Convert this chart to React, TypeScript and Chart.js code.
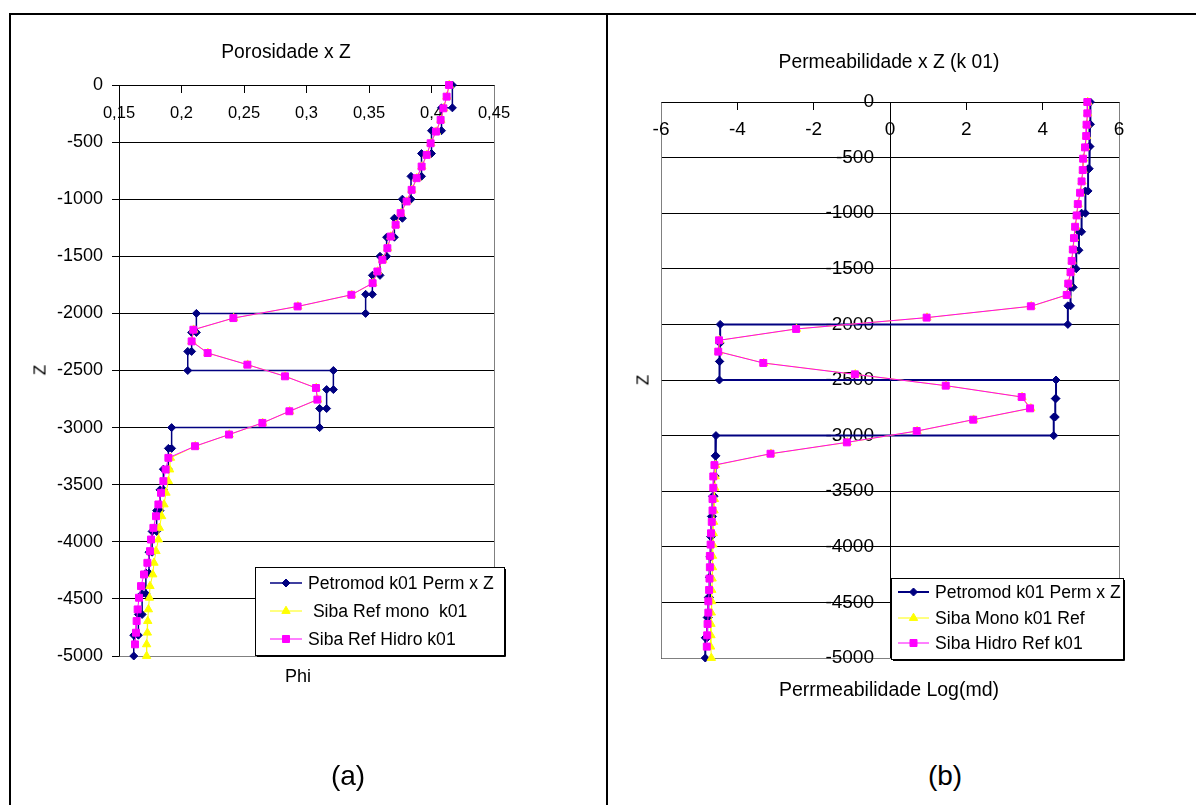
import React, { useEffect, useRef } from 'react';
import { Chart, registerables } from 'chart.js';

Chart.register(...registerables);

const FONT = '"Liberation Sans", Arial, Helvetica, sans-serif';
const NAVY = '#000080';
const YELLOW = '#FFFF00';
const MAGENTA = '#FF00FF';

// ---------- shared depths (m) ----------
const petromodLayerZ = [0, -200, -400, -600, -800, -1000, -1167, -1333, -1500, -1667, -1833, -2000, -2167, -2333, -2500, -2667, -2833, -3000, -3182, -3364, -3545, -3727, -3909, -4091, -4273, -4455, -4636, -4818, -5000];
const sibaZ = [0, -102, -204, -306, -408, -510, -612, -714, -816, -918, -1020, -1122, -1224, -1327, -1429, -1531, -1633, -1735, -1837, -1939, -2041, -2143, -2245, -2347, -2449, -2551, -2653, -2755, -2857, -2959, -3061, -3163, -3265, -3367, -3469, -3571, -3673, -3776, -3878, -3980, -4082, -4184, -4286, -4388, -4490, -4592, -4694, -4796, -4898, -5000];
const zTickLabels = ['0', '-500', '-1000', '-1500', '-2000', '-2500', '-3000', '-3500', '-4000', '-4500', '-5000'];

// ---------- panel (a): porosity ----------
const phiPetromod = [0.4167, 0.408, 0.4, 0.392, 0.3836, 0.3767, 0.3703, 0.3641, 0.3588, 0.3527, 0.3473, 0.2119, 0.2081, 0.205, 0.3215, 0.3161, 0.3105, 0.1921, 0.1895, 0.1855, 0.1828, 0.1801, 0.1765, 0.174, 0.1715, 0.1685, 0.1655, 0.1618];
const phiSibaMono = [0.4142, 0.4123, 0.4097, 0.4075, 0.4038, 0.3995, 0.3963, 0.3923, 0.3883, 0.3843, 0.3803, 0.3755, 0.3715, 0.3675, 0.3649, 0.3609, 0.3569, 0.3531, 0.3361, 0.2931, 0.2417, 0.2097, 0.2083, 0.2211, 0.2529, 0.283, 0.3078, 0.3089, 0.2865, 0.2649, 0.2382, 0.211, 0.1912, 0.1905, 0.1895, 0.1876, 0.186, 0.1841, 0.1823, 0.1815, 0.1796, 0.178, 0.177, 0.1748, 0.1743, 0.1735, 0.173, 0.1727, 0.1721, 0.1721];
const phiSibaHidro = [0.414, 0.4121, 0.4095, 0.4073, 0.4036, 0.3993, 0.3961, 0.3921, 0.3881, 0.3841, 0.3801, 0.3753, 0.3713, 0.3673, 0.3647, 0.3607, 0.3567, 0.3529, 0.3359, 0.2929, 0.2415, 0.2095, 0.2081, 0.2209, 0.2527, 0.2828, 0.3076, 0.3087, 0.2863, 0.2647, 0.238, 0.2108, 0.1895, 0.1873, 0.1855, 0.1836, 0.1815, 0.1796, 0.1775, 0.1756, 0.1748, 0.1727, 0.17, 0.1676, 0.166, 0.1649, 0.1641, 0.1636, 0.1628];
const phiTickLabels = ['0,15', '0,2', '0,25', '0,3', '0,35', '0,4', '0,45'];

// ---------- panel (b): log permeability ----------
const permPetromod = [5.25, 5.24, 5.22, 5.19, 5.12, 5.02, 4.95, 4.88, 4.8, 4.73, 4.66, -4.45, -4.46, -4.47, 4.35, 4.33, 4.29, -4.56, -4.58, -4.61, -4.65, -4.68, -4.7, -4.72, -4.73, -4.76, -4.79, -4.84];
const permSibaMono = [5.18, 5.18, 5.16, 5.15, 5.12, 5.07, 5.06, 5.03, 4.99, 4.93, 4.9, 4.86, 4.83, 4.8, 4.77, 4.74, 4.68, 4.64, 3.7, 0.97, -2.45, -4.47, -4.49, -3.31, -0.91, 1.47, 3.46, 3.69, 2.19, 0.71, -1.12, -3.12, -4.57, -4.58, -4.59, -4.6, -4.61, -4.62, -4.63, -4.64, -4.65, -4.65, -4.66, -4.67, -4.67, -4.68, -4.69, -4.69, -4.7, -4.68];
const permSibaHidro = [5.17, 5.17, 5.15, 5.14, 5.11, 5.06, 5.05, 5.02, 4.98, 4.92, 4.89, 4.85, 4.82, 4.79, 4.76, 4.73, 4.67, 4.63, 3.69, 0.96, -2.46, -4.48, -4.5, -3.32, -0.92, 1.46, 3.45, 3.67, 2.18, 0.7, -1.13, -3.13, -4.6, -4.63, -4.63, -4.65, -4.65, -4.67, -4.69, -4.7, -4.72, -4.72, -4.73, -4.74, -4.76, -4.76, -4.78, -4.79, -4.8];
const permTickLabels = ['-6', '-4', '-2', '0', '2', '4', '6'];

// ---------- texts ----------
const legendA = ['Petromod k01 Perm x Z', ' Siba Ref mono  k01', 'Siba Ref Hidro k01'];
const legendB = ['Petromod k01 Perm x Z', 'Siba Mono k01 Ref', 'Siba Hidro Ref k01'];
const titleA = 'Porosidade x Z';
const titleB = 'Permeabilidade x Z (k 01)';
const xTitleA = 'Phi';
const xTitleB = 'Perrmeabilidade Log(md)';
const yTitle = 'Z';
const captionA = '(a)';
const captionB = '(b)';

function stepPoints(vals: number[]) {
  const pts: { x: number; y: number }[] = [];
  vals.forEach((v, i) => {
    pts.push({ x: v, y: petromodLayerZ[i] });
    pts.push({ x: v, y: petromodLayerZ[i + 1] });
  });
  return pts;
}
function zip(xs: number[], zs: number[]) {
  return xs.map((x, i) => ({ x, y: zs[i] }));
}

function drawMarker(ctx: CanvasRenderingContext2D, style: string, cx: number, cy: number, color: string) {
  ctx.fillStyle = color;
  ctx.strokeStyle = color;
  ctx.lineWidth = 1;
  ctx.beginPath();
  if (style === 'rectRot') {
    const r = 4;
    ctx.moveTo(cx, cy - r);
    ctx.lineTo(cx + r, cy);
    ctx.lineTo(cx, cy + r);
    ctx.lineTo(cx - r, cy);
  } else if (style === 'triangle') {
    const r = 4.8;
    ctx.moveTo(cx, cy - r);
    ctx.lineTo(cx + r * Math.sin((2 * Math.PI) / 3), cy + r / 2);
    ctx.lineTo(cx - r * Math.sin((2 * Math.PI) / 3), cy + r / 2);
  } else {
    const h = 3.5;
    ctx.rect(cx - h, cy - h, 2 * h, 2 * h);
  }
  ctx.closePath();
  ctx.fill();
  ctx.stroke();
}

const axisTextPlugin = {
  id: 'axisText',
  beforeDatasetsDraw(chart: any, _args: any, o: any) {
    const { ctx, chartArea } = chart;
    const xs = chart.scales.x;
    const ys = chart.scales.y;
    ctx.save();
    // plot-area frame (grey)
    ctx.strokeStyle = '#808080';
    ctx.lineWidth = 1;
    const L = Math.round(chartArea.left - 0.5) + 0.5;
    const R = Math.round(chartArea.right - 0.5) + 0.5;
    const B = Math.round(chartArea.bottom - 0.5) + 0.5;
    const T = Math.round(chartArea.top - 0.5) + 0.5;
    ctx.beginPath();
    if (o.frame.includes('left')) { ctx.moveTo(L, T); ctx.lineTo(L, B); }
    if (o.frame.includes('right')) { ctx.moveTo(R, T); ctx.lineTo(R, B); }
    if (o.frame.includes('bottom')) { ctx.moveTo(L, B); ctx.lineTo(R, B); }
    ctx.stroke();

    ctx.fillStyle = '#000';
    // y tick labels
    ctx.font = `${o.ySize}px ${FONT}`;
    ctx.textAlign = 'right';
    ctx.textBaseline = 'middle';
    const ax = xs.getPixelForValue(o.yAxisAt);
    ys.ticks.forEach((t: any) => {
      const lab = o.yLabels[Math.round((0 - t.value) / 500)];
      if (lab !== undefined) ctx.fillText(lab, ax - o.yOffset, ys.getPixelForValue(t.value));
    });
    // x tick labels
    ctx.font = `${o.xSize}px ${FONT}`;
    ctx.textAlign = 'center';
    const ay = ys.getPixelForValue(0);
    xs.ticks.forEach((t: any) => {
      const lab = o.xLabels[Math.round((t.value - o.xMin) / o.xStep)];
      if (lab !== undefined) ctx.fillText(lab, xs.getPixelForValue(t.value), ay + o.xOffset);
    });
    ctx.restore();
  },
};

const boxLegendPlugin = {
  id: 'boxLegend',
  afterDraw(chart: any, _args: any, o: any) {
    const { ctx } = chart;
    ctx.save();
    ctx.fillStyle = '#fff';
    ctx.fillRect(o.x, o.y, o.w, o.h);
    ctx.strokeStyle = '#000';
    ctx.lineWidth = 1;
    ctx.strokeRect(o.x + 0.5, o.y + 0.5, o.w, o.h);
    ctx.beginPath();
    ctx.moveTo(o.x + o.w + 1.5, o.y + 2);
    ctx.lineTo(o.x + o.w + 1.5, o.y + o.h + 1.5);
    ctx.lineTo(o.x + 2, o.y + o.h + 1.5);
    ctx.stroke();
    chart.data.datasets.forEach((ds: any, i: number) => {
      const cy = o.y + o.rows[i];
      ctx.strokeStyle = ds.borderColor;
      ctx.lineWidth = ds.borderWidth;
      ctx.beginPath();
      ctx.moveTo(o.x + o.s0, cy);
      ctx.lineTo(o.x + o.s1, cy);
      ctx.stroke();
      drawMarker(ctx, ds.pointStyle, o.x + (o.s0 + o.s1) / 2, cy, ds.borderColor);
      ctx.fillStyle = '#000';
      ctx.font = `${o.size}px ${FONT}`;
      ctx.textAlign = 'left';
      ctx.textBaseline = 'middle';
      ctx.fillText(ds.label, o.x + o.tx, cy + 1);
    });
    ctx.restore();
  },
};

interface PanelSpec {
  petromod: number[];
  mono: number[];
  hidro: number[];
  legend: string[];
  navyWidth: number;
  xMin: number;
  xMax: number;
  xStep: number;
  xLabels: string[];
  yAxisAt: number;
  xTickSize: number;
  yTickSize: number;
  padding: { left: number; top: number; right: number; bottom: number };
  frame: string[];
  legendBox: any;
}

function buildConfig(p: PanelSpec): any {
  return {
    type: 'scatter',
    data: {
      datasets: [
        {
          label: p.legend[0],
          data: stepPoints(p.petromod),
          showLine: true,
          borderColor: NAVY,
          backgroundColor: NAVY,
          borderWidth: p.navyWidth,
          pointStyle: 'rectRot',
          pointRadius: 4,
          pointBorderWidth: 1,
          pointBackgroundColor: NAVY,
          pointBorderColor: NAVY,
          order: 3,
          clip: false,
        },
        {
          label: p.legend[1],
          data: zip(p.mono, sibaZ),
          showLine: true,
          borderColor: YELLOW,
          backgroundColor: YELLOW,
          borderWidth: 1,
          pointStyle: 'triangle',
          pointRadius: 4.8,
          pointBorderWidth: 1,
          pointBackgroundColor: YELLOW,
          pointBorderColor: YELLOW,
          order: 2,
          clip: false,
        },
        {
          label: p.legend[2],
          data: zip(p.hidro, sibaZ),
          showLine: true,
          borderColor: MAGENTA,
          backgroundColor: MAGENTA,
          borderWidth: 1,
          pointStyle: 'rect',
          pointRadius: 4.9,
          pointBorderWidth: 1,
          pointBackgroundColor: MAGENTA,
          pointBorderColor: MAGENTA,
          order: 1,
          clip: false,
        },
      ],
    },
    options: {
      responsive: false,
      animation: false,
      devicePixelRatio: 1,
      layout: { padding: p.padding },
      events: [],
      plugins: {
        legend: { display: false },
        title: { display: false },
        tooltip: { enabled: false },
        axisText: {
          frame: p.frame,
          yAxisAt: p.yAxisAt,
          yLabels: zTickLabels,
          yOffset: 16,
          ySize: p.yTickSize,
          xLabels: p.xLabels,
          xMin: p.xMin,
          xStep: p.xStep,
          xOffset: 28,
          xSize: p.xTickSize,
        },
        boxLegend: p.legendBox,
      },
      scales: {
        x: {
          type: 'linear',
          min: p.xMin,
          max: p.xMax,
          position: { y: 0 },
          ticks: { stepSize: p.xStep, display: false },
          grid: { drawOnChartArea: false, drawTicks: true, tickLength: 7, tickColor: '#000', tickWidth: 1 },
          border: { display: true, color: '#000', width: 1 },
        },
        y: {
          type: 'linear',
          min: -5000,
          max: 0,
          position: { x: p.yAxisAt },
          ticks: { stepSize: 500, display: false },
          grid: { color: '#000', lineWidth: 1, drawTicks: true, tickLength: 7, tickColor: '#000', tickWidth: 1 },
          border: { display: true, color: '#000', width: 1 },
        },
      },
    },
    plugins: [axisTextPlugin, boxLegendPlugin],
  };
}

function ChartCanvas({ spec, left, top, width, height }: { spec: PanelSpec; left: number; top: number; width: number; height: number }) {
  const ref = useRef<HTMLCanvasElement>(null);
  useEffect(() => {
    const chart = new Chart(ref.current as HTMLCanvasElement, buildConfig(spec));
    return () => chart.destroy();
  }, []);
  return <canvas ref={ref} width={width} height={height} style={{ position: 'absolute', left, top, width, height }} />;
}

function Txt({ x, y, size, text, rotate }: { x: number; y: number; size: number; text: string; rotate?: boolean }) {
  return (
    <div
      style={{
        position: 'absolute',
        left: x,
        top: y,
        transform: `translate(-50%, -50%)${rotate ? ' rotate(-90deg)' : ''}`,
        fontFamily: FONT,
        fontSize: size,
        lineHeight: 1,
        whiteSpace: 'pre',
        color: '#000',
      }}
    >
      {text}
    </div>
  );
}

const specA: PanelSpec = {
  petromod: phiPetromod,
  mono: phiSibaMono,
  hidro: phiSibaHidro,
  legend: legendA,
  navyWidth: 1.5,
  xMin: 0.15,
  xMax: 0.45,
  xStep: 0.05,
  xLabels: phiTickLabels,
  yAxisAt: 0.15,
  xTickSize: 16.5,
  yTickSize: 18,
  padding: { left: 107, top: 69, right: 110, bottom: 60 },
  frame: ['right', 'bottom'],
  legendBox: { x: 243, y: 551, w: 249, h: 88, rows: [16, 44, 72], s0: 15, s1: 47, tx: 53, size: 17.6 },
};

const specB: PanelSpec = {
  petromod: permPetromod,
  mono: permSibaMono,
  hidro: permSibaHidro,
  legend: legendB,
  navyWidth: 2,
  xMin: -6,
  xMax: 6,
  xStep: 2,
  xLabels: permTickLabels,
  yAxisAt: 0,
  xTickSize: 19,
  yTickSize: 19,
  padding: { left: 49, top: 86, right: 73, bottom: 58 },
  frame: ['left', 'right', 'bottom'],
  legendBox: { x: 279, y: 562, w: 232, h: 81, rows: [14, 40, 65], s0: 7, s1: 38, tx: 44, size: 17.6 },
};

export default function App() {
  return (
    <div style={{ position: 'absolute', left: 0, top: 0, width: 1196, height: 805, background: '#fff', overflow: 'hidden' }}>
      {/* outer frame */}
      <div style={{ position: 'absolute', left: 9, top: 13, width: 1187, height: 2, background: '#000' }} />
      <div style={{ position: 'absolute', left: 9, top: 13, width: 2, height: 792, background: '#000' }} />
      <div style={{ position: 'absolute', left: 606, top: 13, width: 2, height: 792, background: '#000' }} />

      <ChartCanvas spec={specA} left={12} top={16} width={592} height={700} />
      <ChartCanvas spec={specB} left={612} top={16} width={580} height={700} />

      <Txt x={286} y={52} size={19.3} text={titleA} />
      <Txt x={889} y={62} size={19.3} text={titleB} />
      <Txt x={40} y={370} size={17} text={yTitle} rotate />
      <Txt x={643} y={380} size={17} text={yTitle} rotate />
      <Txt x={298} y={676} size={18} text={xTitleA} />
      <Txt x={889} y={690} size={19.5} text={xTitleB} />
      <Txt x={348} y={776} size={28} text={captionA} />
      <Txt x={945} y={776} size={28} text={captionB} />
    </div>
  );
}
